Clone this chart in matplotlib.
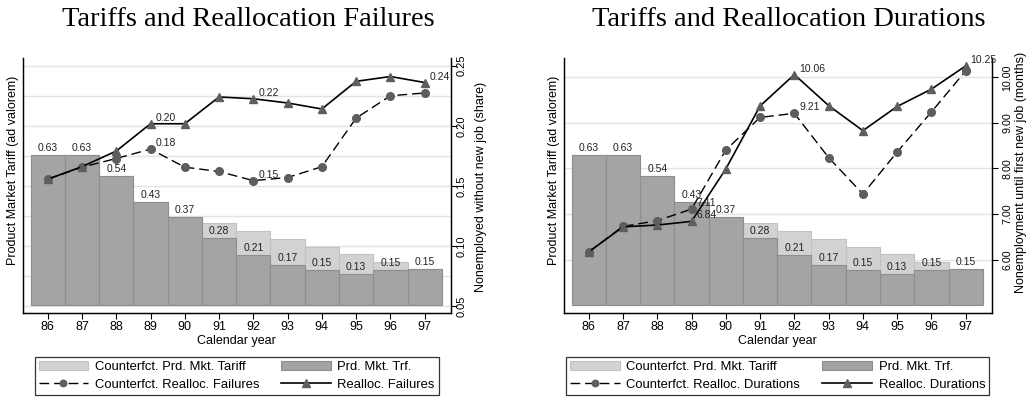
import numpy as np
import matplotlib
matplotlib.use('Agg')
import matplotlib.pyplot as plt
import matplotlib.transforms as mtransforms

plt.rcParams['font.family'] = ['Liberation Sans', 'DejaVu Sans']

years = [86, 87, 88, 89, 90, 91, 92, 93, 94, 95, 96, 97]

# tariffs (left axis, same in both panels)
tariff = [0.63, 0.63, 0.54, 0.43, 0.37, 0.28, 0.21, 0.166, 0.147, 0.128, 0.146, 0.15]
tariff_cf = [0.63, 0.63, 0.54, 0.43, 0.37, 0.342, 0.309, 0.276, 0.244, 0.212, 0.179, 0.15]

# left panel: share nonemployed without new job
fail = [0.1556, 0.166, 0.179, 0.2017, 0.2017, 0.224, 0.2225, 0.219, 0.214, 0.237, 0.241, 0.236]
fail_cf = [0.1556, 0.1656, 0.1728, 0.1806, 0.1656, 0.162, 0.1544, 0.157, 0.166, 0.2064, 0.225, 0.2273]

# right panel: months until first new job
dur = [6.17, 6.72, 6.76, 6.84, 7.99, 9.37, 10.06, 9.38, 8.83, 9.36, 9.74, 10.25]
dur_cf = [6.17, 6.73, 6.855, 7.11, 8.405, 9.12, 9.21, 8.24, 7.44, 8.36, 9.24, 10.14]

line_lab_years = [89, 92, 97]
cf_lab_years = [89, 92]

DARK = '#a4a4a4'
LIGHT = '#d2d2d2'
MARK = '#5e5e5e'

fig = plt.figure(figsize=(10.26, 4.0), dpi=100)


def panel(left, vals, vals_cf, ylim2, grid_vals, ticks2, fmt, ylab2, name, title, title_x,
          ylab2_x, ylab2_y, ylab_y, tpad, tsize):
    ax = fig.add_axes([left, 0.2175, 0.4172, 0.6375])
    ax2 = ax.twinx()
    ax.set_xlim(85.27, 97.76)
    ax.set_ylim(-0.0354, 1.038)
    ax2.set_ylim(*ylim2)

    # grid follows the right axis, drawn beneath the bars
    tr = mtransforms.blended_transform_factory(ax.transAxes, ax2.transData)
    for g in grid_vals:
        ax.plot([0, 1], [g, g], transform=tr, color='#e3e3e3', lw=1.0, zorder=0)

    b1 = ax.bar(years, tariff_cf, width=1.0, color=LIGHT, edgecolor='#c2c2c2', lw=0.8, zorder=1)
    b2 = ax.bar(years, tariff, width=1.0, color=DARK, edgecolor='#8e8e8e', lw=0.8, zorder=2)
    for x, v in zip(years, tariff):
        ax.annotate('%.2f' % v, (x, v), xytext=(0, 1.5), textcoords='offset points',
                    ha='center', va='bottom', fontsize=7.5, color='#222222', zorder=3)

    l_cf, = ax2.plot(years, vals_cf, color='black', lw=1.0, dashes=(7, 3.5),
                     marker='o', ms=5.5, mfc=MARK, mec=MARK)
    l_act, = ax2.plot(years, vals, color='black', lw=1.2,
                      marker='^', ms=6, mfc=MARK, mec=MARK)
    for x, v in zip(years, vals):
        if x in line_lab_years:
            ax2.annotate('%.2f' % v, (x, v), xytext=(3.5, 4.3), textcoords='offset points',
                         ha='left', va='center', fontsize=7.5, color='#222222')
    for x, v in zip(years, vals_cf):
        if x in cf_lab_years:
            ax2.annotate('%.2f' % v, (x, v), xytext=(3.5, 4.3), textcoords='offset points',
                         ha='left', va='center', fontsize=7.5, color='#222222')

    ax.set_xticks(years)
    ax.set_xticklabels([str(y) for y in years])
    ax.tick_params(axis='x', labelsize=9, length=4, width=0.8, pad=2)
    ax.set_yticks([])
    ax.set_xlabel('Calendar year', fontsize=9, labelpad=1)
    ax.set_ylabel('Product Market Tariff (ad valorem)', fontsize=9)
    ax.yaxis.set_label_coords(-0.009, ylab_y)

    ax2.set_yticks(ticks2)
    ax2.set_yticklabels([fmt % t for t in ticks2], rotation=90, va='center')
    ax2.tick_params(axis='y', labelsize=tsize, length=4, width=0.8, pad=tpad)
    ax2.set_ylabel(ylab2, fontsize=9)
    ax2.yaxis.set_label_coords(ylab2_x, ylab2_y)

    for a in (ax, ax2):
        a.spines['top'].set_visible(False)
        for s in ('left', 'right', 'bottom'):
            a.spines[s].set_linewidth(0.9)

    fig.text(title_x, 0.935, title, ha='center', va='baseline', fontsize=20.5,
             family='Liberation Serif')

    leg = fig.legend([b1, l_cf, b2, l_act],
                     ['Counterfct. Prd. Mkt. Tariff', 'Counterfct. Realloc. ' + name,
                      'Prd. Mkt. Trf.', 'Realloc. ' + name],
                     ncol=2, loc='center',
                     bbox_to_anchor=(left + 0.4172 / 2, 1 - 376 / 400),
                     fontsize=9.4, frameon=True, fancybox=False, edgecolor='black',
                     handlelength=3.8, handletextpad=0.5, columnspacing=1.7,
                     labelspacing=0.4, borderpad=0.3, markerscale=0.85)
    leg.get_frame().set_linewidth(0.9)


panel(0.0221, fail, fail_cf, (0.0443, 0.2564), np.arange(0.05, 0.26, 0.025),
      [0.05, 0.10, 0.15, 0.20, 0.25], '%.2f', 'Nonemployed without new job (share)',
      'Failures', 'Tariffs and Reallocation Failures', 248 / 1026,
      1.056, 0.494, 0.561, 0.3, 8)
panel(0.5494, dur, dur_cf, (4.831, 10.423), [6, 7, 8, 9, 10],
      [6, 7, 8, 9, 10], '%.2f', 'Nonemployment until first new job (months)',
      'Durations', 'Tariffs and Reallocation Durations', 788.5 / 1026,
      1.054, 0.553, 0.561, 3.5, 7.7)

plt.savefig('out.png', dpi=100)
